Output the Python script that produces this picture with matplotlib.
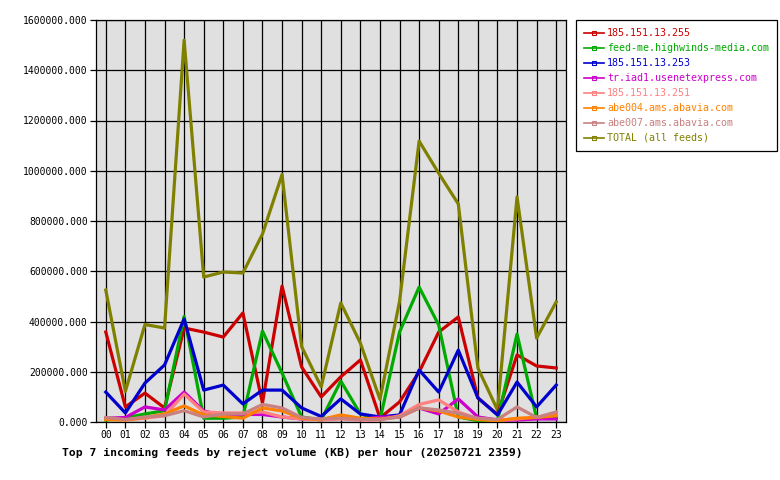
import matplotlib
matplotlib.use("Agg")
import matplotlib.pyplot as plt
from matplotlib.lines import Line2D
from matplotlib.ticker import FormatStrFormatter, MultipleLocator

# hourly reject volume (KB) per feed
hours = ["%02d" % h for h in range(24)]

red_255 = [358000, 60000, 115000, 56000, 374000, 358000, 338000, 434000, 76000, 541000, 219000, 100000,
           180000, 247000, 16000, 80000, 199000, 358000, 418000, 96000, 30000, 267000, 223000, 215000]
highwinds = [8000, 16000, 32000, 45000, 420000, 15000, 15000, 20000, 362000, 195000, 20000, 8000,
             163000, 32000, 8000, 358000, 537000, 386000, 20000, 5000, 5000, 350000, 15000, 15000]
blue_253 = [119000, 36000, 155000, 227000, 410000, 127000, 147000, 72000, 127000, 127000, 56000, 22000,
            92000, 32000, 20000, 28000, 207000, 119000, 286000, 96000, 28000, 159000, 60000, 147000]
usenetexpress = [15000, 18000, 60000, 48000, 119000, 44000, 25000, 30000, 30000, 20000, 12000, 10000,
                 15000, 10000, 20000, 20000, 56000, 32000, 92000, 20000, 8000, 8000, 12000, 12000]
coral_251 = [15000, 8000, 15000, 25000, 111000, 40000, 36000, 36000, 40000, 20000, 12000, 8000,
             12000, 8000, 8000, 25000, 70000, 88000, 40000, 12000, 8000, 12000, 20000, 28000]
abe004 = [10000, 8000, 18000, 32000, 64000, 28000, 22000, 15000, 56000, 44000, 15000, 10000,
          28000, 15000, 12000, 20000, 56000, 44000, 20000, 10000, 5000, 15000, 18000, 25000]
abe007 = [18000, 10000, 20000, 25000, 45000, 20000, 32000, 32000, 70000, 56000, 18000, 12000,
          15000, 10000, 10000, 20000, 56000, 48000, 35000, 15000, 10000, 60000, 18000, 40000]
total = [525000, 122000, 388000, 374000, 1520000, 577000, 597000, 593000, 748000, 985000, 300000, 140000,
         474000, 314000, 90000, 480000, 1118000, 990000, 868000, 215000, 48000, 896000, 334000, 478000]

names = ["185.151.13.255", "feed-me.highwinds-media.com", "185.151.13.253", "tr.iad1.usenetexpress.com",
         "185.151.13.251", "abe004.ams.abavia.com", "abe007.ams.abavia.com", "TOTAL (all feeds)"]
colors = ["#cc0000", "#00aa00", "#0000cc", "#cc00cc", "#ff8080", "#ff8000", "#c88080", "#808000"]
series = [red_255, highwinds, blue_253, usenetexpress, coral_251, abe004, abe007, total]

plt.rcParams['font.family'] = ['DejaVu Sans Mono']

fig = plt.figure(figsize=(7.8, 4.8), dpi=100)
ax = fig.add_axes([96/780, 1 - 422/480, 470/780, 402/480])
ax.set_facecolor("#e0e0e0")

x = list(range(24))
# total goes underneath, feeds on top in legend order
ax.plot(x, total, color=colors[7], lw=2.3, zorder=2)
for i in range(7):
    ax.plot(x, series[i], color=colors[i], lw=2.3, zorder=3 + i)

ax.set_xlim(-0.5, 23.5)
ax.set_ylim(0, 1600000)
ax.set_xticks(x)
ax.set_xticklabels(hours)
ax.yaxis.set_major_locator(MultipleLocator(200000))
ax.yaxis.set_major_formatter(FormatStrFormatter("%.3f"))
ax.grid(True, color="black", lw=0.9)
ax.set_axisbelow(True)
ax.tick_params(direction="out", length=4, width=0.9, labelsize=7, colors="black", pad=2)
for s in ax.spines.values():
    s.set_linewidth(0.9)

handles = [Line2D([0], [0], color=c, lw=1.2, marker="s", markersize=2.5, mfc="none", mew=0.8)
           for c in colors]
leg = fig.legend(handles, names, loc="upper left", bbox_to_anchor=(576/780, 1 - 20/480),
                 fontsize=7.2, frameon=True, fancybox=False, edgecolor="black", framealpha=1,
                 handlelength=2.0, handletextpad=0.3, labelspacing=0.5, borderpad=0.8,
                 borderaxespad=0, labelcolor=colors)
leg.get_frame().set_linewidth(0.9)

fig.text(62/780, 1 - 452/480, "Top 7 incoming feeds by reject volume (KB) per hour (20250721 2359)",
         fontsize=8.2, fontweight="bold", va="center", ha="left")

fig.savefig("out.png", dpi=100)
